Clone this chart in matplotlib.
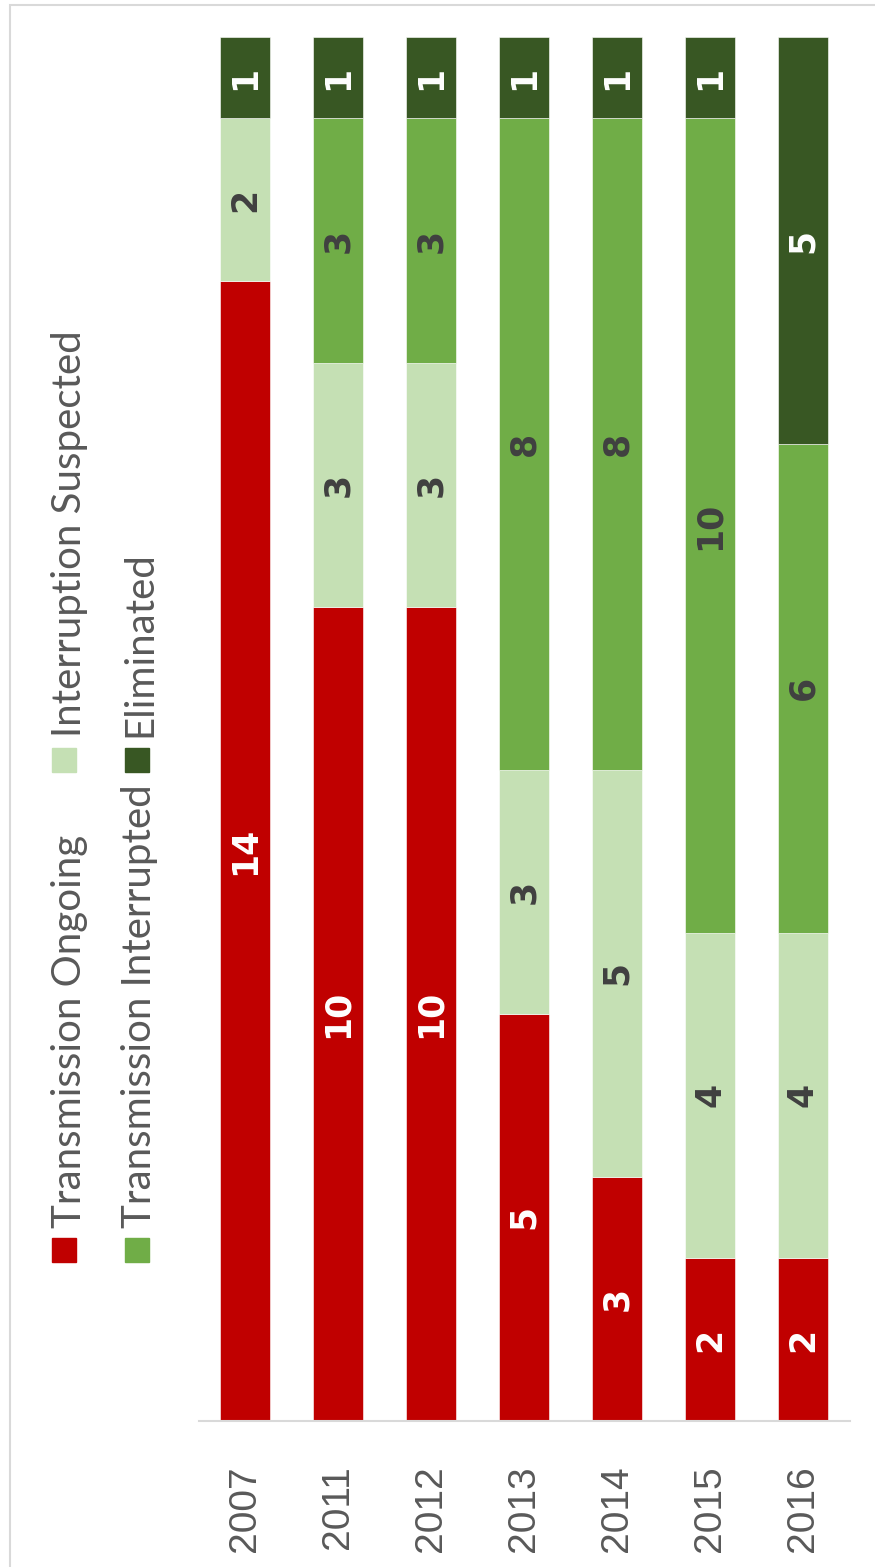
import numpy as np
import matplotlib
matplotlib.use("Agg")
import matplotlib.pyplot as plt
from matplotlib.patches import Rectangle

years = ["2007", "2011", "2012", "2013", "2014", "2015", "2016"]
ongoing = [14, 10, 10, 5, 3, 2, 2]
suspected = [2, 3, 3, 3, 5, 4, 4]
interrupted = [0, 3, 3, 8, 8, 10, 6]
eliminated = [1, 1, 1, 1, 1, 1, 5]

series = [
    ("Transmission Ongoing", ongoing, "#C00000", "white"),
    ("Interruption Suspected", suspected, "#C5E0B4", "#404040"),
    ("Transmission Interrupted", interrupted, "#70AD47", "#404040"),
    ("Eliminated", eliminated, "#385723", "white"),
]

W, H = 875, 1567
fig = plt.figure(figsize=(W / 100, H / 100), dpi=100)

def fx(px):
    return px / W

def fy(py):
    return 1 - py / H

ax = fig.add_axes([fx(198.5), fy(1421), fx(849.5) - fx(198.5), fy(37) - fy(1421)])

x = np.arange(len(years))
bottom = np.zeros(len(years))
for name, vals, col, tcol in series:
    vals = np.array(vals, dtype=float)
    ax.bar(x, vals, 0.54, bottom=bottom, color=col, edgecolor="white", linewidth=0.4)
    for i, v in enumerate(vals):
        if v > 0:
            ax.text(x[i], bottom[i] + v / 2, str(int(v)), rotation=90,
                    ha="center", va="center", color=tcol, fontsize=25,
                    fontweight="bold", family="DejaVu Sans")
    bottom += vals

ax.set_xlim(-0.5, len(years) - 0.5)
ax.set_ylim(0, 17)
ax.set_yticks([])
ax.set_xticks(x)
ax.set_xticklabels(years, rotation=90, fontsize=28, color="#595959",
                   family="Liberation Sans")
ax.tick_params(axis="x", length=0, pad=32)
for s in ["top", "right", "left"]:
    ax.spines[s].set_visible(False)
ax.spines["bottom"].set_color("#D9D9D9")
ax.spines["bottom"].set_linewidth(1.5)

# legend drawn by hand, rotated like the chart
leg = [
    ("Transmission Ongoing", "#C00000", 52, 1250, 70, 1228),
    ("Interruption Suspected", "#C5E0B4", 52, 760, 70, 737),
    ("Transmission Interrupted", "#70AD47", 125, 1250, 140, 1228),
    ("Eliminated", "#385723", 125, 760, 140, 737),
]
for name, col, mx, my, tx, ty in leg:
    fig.patches.append(Rectangle((fx(mx), fy(my + 12)), fx(24), 24 / H,
                                 transform=fig.transFigure, color=col))
    fig.text(fx(tx), fy(ty), name, rotation=90, ha="center", va="bottom",
             fontsize=29, color="#595959", family="Lato")

# chart border
fig.patches.append(Rectangle((fx(10), -0.01), 1.0, fy(5) + 0.01,
                             transform=fig.transFigure, fill=False,
                             edgecolor="#D9D9D9", linewidth=1.5))

fig.savefig("out.png", dpi=100)
